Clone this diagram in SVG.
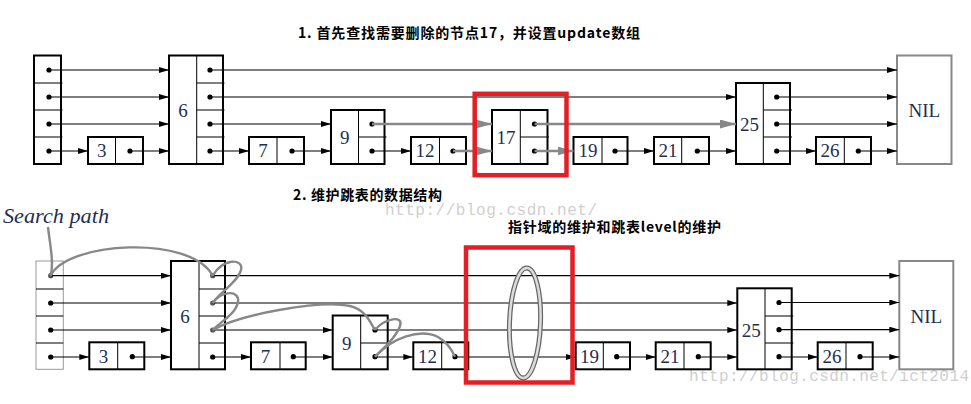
<svg xmlns="http://www.w3.org/2000/svg" width="971" height="404" viewBox="0 0 971 404">
<style>
.box{fill:#fff;stroke:#000;stroke-width:2}
.nil{fill:#fff;stroke:#888;stroke-width:2}
.hb{fill:#fff;stroke:#999;stroke-width:1}
.dv{stroke:#000;stroke-width:1;fill:none}
.ln{stroke:#000;stroke-width:1.2;fill:none;marker-end:url(#ab)}
.gl{stroke:#888;stroke-width:2.6;fill:none;marker-end:url(#ag)}
.sp{stroke:#888;stroke-width:2.4;fill:none}
.lbl{font-family:"Liberation Serif",serif;font-size:19px;fill:#1e2f52;text-anchor:middle}
.ti{font-family:"Noto Sans CJK SC",sans-serif;font-weight:bold;font-size:14px;fill:#000}
.wm{font-family:"Liberation Mono",monospace;font-size:16px;fill:#cfcfcf}
.red{fill:none;stroke:#e31e24;stroke-width:4.5}
</style>
<defs>
<marker id="ab" markerUnits="userSpaceOnUse" viewBox="0 0 10 6" markerWidth="10" markerHeight="6" refX="10" refY="3" orient="auto"><path d="M0,0 L10,3 L0,6 z" fill="#000"/></marker>
<marker id="ag" markerUnits="userSpaceOnUse" viewBox="0 0 16 9" markerWidth="16" markerHeight="9" refX="16" refY="4.5" orient="auto"><path d="M0,0 L16,4.5 L0,9 z" fill="#888"/></marker>
</defs>
<rect width="971" height="404" fill="#fff"/>

<text class="wm" x="385" y="215" textLength="212">http://blog.csdn.net/</text>
<text class="wm" x="689" y="381" textLength="280">http://blog.csdn.net/ict2014</text>

<text class="ti" x="298" y="38" textLength="342" lengthAdjust="spacing">1. 首先查找需要删除的节点17，并设置update数组</text>
<text class="ti" x="293" y="200" textLength="149" lengthAdjust="spacing">2. 维护跳表的数据结构</text>
<text class="ti" x="508" y="232" textLength="213" lengthAdjust="spacing">指针域的维护和跳表level的维护</text>
<text x="3" y="223" font-family="Liberation Serif, serif" font-style="italic" font-size="22" fill="#1e2f52" textLength="106" lengthAdjust="spacingAndGlyphs">Search path</text>

<!-- TOP LIST NODES -->
<g id="t-head"><rect class="box" x="34" y="55.5" width="27" height="108.5"/><path class="dv" d="M34,83H62.5M34,110H62.5M34,137H62.5"/><circle cx="49" cy="70" r="2.6"/><circle cx="49" cy="97" r="2.6"/><circle cx="49" cy="124" r="2.6"/><circle cx="49" cy="151" r="2.6"/></g>
<g id="t-n3"><rect class="box" x="88" y="137" width="55" height="27"/><path class="dv" d="M115.5,137V164"/><text class="lbl" x="101.7" y="157">3</text><circle cx="130" cy="151" r="2.6"/></g>
<g id="t-n6"><rect class="box" x="169" y="55.5" width="54" height="108.5"/><path class="dv" d="M196.7,55.5V164M196.7,83H224.5M196.7,110H224.5M196.7,137H224.5"/><text class="lbl" x="183" y="116.5">6</text><circle cx="210" cy="70" r="2.6"/><circle cx="210" cy="97" r="2.6"/><circle cx="210" cy="124" r="2.6"/><circle cx="210" cy="151" r="2.6"/></g>
<g id="t-n7"><rect class="box" x="249" y="137" width="55" height="27"/><path class="dv" d="M277,137V164"/><text class="lbl" x="263" y="157">7</text><circle cx="292" cy="151" r="2.6"/></g>
<g id="t-n9"><rect class="box" x="331" y="110" width="53.5" height="54"/><path class="dv" d="M358.5,110V164M358.5,137H386.5"/><text class="lbl" x="344.7" y="143.5">9</text><circle cx="372" cy="124" r="2.6"/><circle cx="372" cy="151" r="2.6"/></g>
<g id="t-n12"><rect class="box" x="411" y="137" width="55" height="27"/><path class="dv" d="M439.5,137V164"/><text class="lbl" x="425" y="157">12</text><circle cx="453" cy="151" r="2.6"/></g>
<g id="t-n17"><rect class="box" x="492" y="110" width="55.5" height="54"/><path class="dv" d="M520.3,110V164M520.3,137H549"/><text class="lbl" x="506" y="143.5">17</text><circle cx="534.5" cy="124" r="2.6"/><circle cx="534.5" cy="151" r="2.6"/></g>
<g id="t-n19"><rect class="box" x="573.5" y="137" width="54" height="27"/><path class="dv" d="M602,137V164"/><text class="lbl" x="588" y="157">19</text><circle cx="615" cy="151" r="2.6"/></g>
<g id="t-n21"><rect class="box" x="654" y="137" width="55" height="27"/><path class="dv" d="M681.7,137V164"/><text class="lbl" x="668" y="157">21</text><circle cx="697.3" cy="151" r="2.6"/></g>
<g id="t-n25"><rect class="box" x="736" y="83" width="54" height="81"/><path class="dv" d="M763.3,83V164M763.3,110H792M763.3,137H792"/><text class="lbl" x="749.5" y="130.5">25</text><circle cx="776.7" cy="97" r="2.6"/><circle cx="776.7" cy="124" r="2.6"/><circle cx="776.7" cy="151" r="2.6"/></g>
<g id="t-n26"><rect class="box" x="816" y="137" width="55" height="27"/><path class="dv" d="M844.3,137V164"/><text class="lbl" x="830" y="157">26</text><circle cx="858.3" cy="151" r="2.6"/></g>
<g id="t-nil"><rect class="nil" x="897" y="55.5" width="54.5" height="108.5"/><text class="lbl" x="924.3" y="116.5">NIL</text></g>

<!-- BOTTOM LIST NODES -->
<g id="b-head"><rect class="hb" x="36" y="261" width="27.3" height="108.3"/><path class="dv" d="M36,289H63.3M36,316H63.3M36,343H63.3"/><circle cx="50.7" cy="275.7" r="2.6" fill="#555"/><circle cx="50.7" cy="303" r="2.6"/><circle cx="50.7" cy="330" r="2.6"/><circle cx="50.7" cy="357" r="2.6"/></g>
<g id="b-n3"><rect class="box" x="89.3" y="342.3" width="55" height="27"/><path class="dv" d="M117.7,342.3V369.3"/><text class="lbl" x="103.5" y="362.5">3</text><circle cx="132.3" cy="356.7" r="2.6"/></g>
<g id="b-n6"><rect class="box" x="171" y="261" width="54" height="108.3"/><path class="dv" d="M199,261V369.3M199,289H226M199,316H226M199,343H226"/><text class="lbl" x="185" y="322.5">6</text><circle cx="212.7" cy="275.7" r="2.6" fill="#555"/><circle cx="212.7" cy="303" r="2.6" fill="#555"/><circle cx="212.7" cy="330" r="2.6" fill="#555"/><circle cx="212.7" cy="357" r="2.6"/></g>
<g id="b-n7"><rect class="box" x="251" y="342.3" width="54.7" height="27"/><path class="dv" d="M280,342.3V369.3"/><text class="lbl" x="265.5" y="362.5">7</text><circle cx="293.3" cy="356.7" r="2.6"/></g>
<g id="b-n9"><rect class="box" x="332.7" y="315.5" width="55" height="53.8"/><path class="dv" d="M360.7,315.5V369.3M360.7,343H389"/><text class="lbl" x="346.7" y="349.5">9</text><circle cx="375" cy="330" r="2.6"/><circle cx="375" cy="356.7" r="2.6"/></g>
<g id="b-n12"><rect class="box" x="413.3" y="342.3" width="55" height="27"/><path class="dv" d="M441.7,342.3V369.3"/><text class="lbl" x="427.5" y="362.5">12</text><circle cx="455" cy="356.7" r="2.6"/></g>
<g id="b-n19"><rect class="box" x="575.7" y="342.3" width="54.3" height="27"/><path class="dv" d="M603.3,342.3V369.3"/><text class="lbl" x="589.5" y="362.5">19</text><circle cx="616.7" cy="356.7" r="2.6"/></g>
<g id="b-n21"><rect class="box" x="655.7" y="342.3" width="55" height="27"/><path class="dv" d="M684,342.3V369.3"/><text class="lbl" x="670" y="362.5">21</text><circle cx="698.3" cy="356.7" r="2.6"/></g>
<g id="b-n25"><rect class="box" x="737.3" y="288.3" width="54.4" height="81"/><path class="dv" d="M765,288.3V369.3M765,316H793.3M765,343H793.3"/><text class="lbl" x="751.2" y="336.5">25</text><circle cx="779" cy="302.5" r="2.6"/><circle cx="779" cy="329.7" r="2.6"/><circle cx="779" cy="356.7" r="2.6"/></g>
<g id="b-n26"><rect class="box" x="817.7" y="342.3" width="55" height="27"/><path class="dv" d="M846,342.3V369.3"/><text class="lbl" x="832" y="362.5">26</text><circle cx="860" cy="356.7" r="2.6"/></g>
<g id="b-nil"><rect class="nil" x="899.3" y="261" width="54" height="108.3"/><text class="lbl" x="926.3" y="322.5">NIL</text></g>

<g id="connectors">
<!-- top -->
<path class="ln" d="M49,70H169"/><path class="ln" d="M210,70H897"/>
<path class="ln" d="M49,97H169"/><path class="ln" d="M210,97H736"/><path class="ln" d="M776.7,97H897"/>
<path class="ln" d="M49,124H169"/><path class="ln" d="M210,124H331"/><path class="gl" d="M372,124H492"/><path class="gl" d="M534.5,124H736"/><path class="ln" d="M776.7,124H897"/>
<path class="ln" d="M49,151H88"/><path class="ln" d="M130,151H169"/><path class="ln" d="M210,151H249"/><path class="ln" d="M292,151H331"/><path class="ln" d="M372,151H411"/><path class="gl" d="M453,151H492"/><path class="gl" d="M534.5,151H573.5"/><path class="ln" d="M615,151H654"/><path class="ln" d="M697.3,151H736"/><path class="ln" d="M776.7,151H816"/><path class="ln" d="M858.3,151H897"/>
<!-- bottom -->
<path class="ln" d="M50.7,275.7H171"/><path class="ln" d="M212.7,275.7H899.3"/>
<path class="ln" d="M50.7,303H171"/><path class="ln" d="M212.7,303H737.3"/><path class="ln" d="M779,302.5H899.3"/>
<path class="ln" d="M50.7,330H171"/><path class="ln" d="M212.7,330H332.7"/><path class="ln" d="M375,330H737.3"/><path class="ln" d="M779,329.7H899.3"/>
<path class="ln" d="M50.7,357H89.3"/><path class="ln" d="M132.3,357H171"/><path class="ln" d="M212.7,357H251"/><path class="ln" d="M293.3,357H332.7"/><path class="ln" d="M375,357H413.3"/><path class="ln" d="M455,357H575.7"/><path class="ln" d="M616.7,357H655.7"/><path class="ln" d="M698.3,357H737.3"/><path class="ln" d="M779,357H817.7"/><path class="ln" d="M860,357H899.3"/>
<!-- search path -->
<path class="sp" d="M48,227 C50,245 54,262 50.7,275.7"/>
<path class="sp" d="M50.7,275.7 C66,242 190,234 212.7,275.7"/>
<path class="sp" d="M212.7,275.7 C222,258 244,258 241,270 C238,282 220,292 212.7,303"/>
<path class="sp" d="M212.7,303 C222,290 240,290 238,302 C236,314 220,322 212.7,330"/>
<path class="sp" d="M212.7,330 C240,314 320,300 350,306 C366,310 370,322 375,330"/>
<path class="sp" d="M375,330 C385,318 404,315 400,326 C396,338 382,350 375,356.7"/>
<path class="sp" d="M375,356.7 C392,338 420,328 438,337 C448,343 452,350 455,356.7"/>
</g>

<g id="ring">
<ellipse cx="525" cy="323" rx="15.5" ry="55" transform="rotate(2 525 323)" fill="none" stroke="#666" stroke-width="5"/>
<ellipse cx="525" cy="323" rx="15.5" ry="55" transform="rotate(2 525 323)" fill="none" stroke="#dcdcdc" stroke-width="2.5"/>
</g>

<g id="highlights">
<rect class="red" x="474.7" y="93.8" width="91.8" height="81.4"/>
<rect class="red" x="466" y="247.5" width="106.5" height="135"/>
</g>
</svg>
